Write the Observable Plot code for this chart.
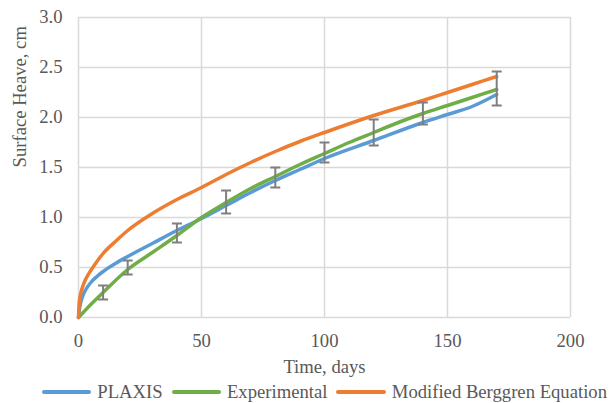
<!DOCTYPE html>
<html><head><meta charset="utf-8">
<script src="https://cdn.jsdelivr.net/npm/d3@7"></script>
<script src="https://cdn.jsdelivr.net/npm/@observablehq/plot@0.6"></script>
<style>
body{margin:0;background:#fff;font-family:"Liberation Serif","Times New Roman",serif;color:#595959;}
#legend{display:flex;align-items:center;height:24px;padding-left:42px;font-size:18.67px;line-height:22px;white-space:nowrap;}
#legend .sw{height:4px;border-radius:2px;margin-right:6px;}
#legend .lb{margin-right:9px;}
</style></head><body>
<div id="chart"></div>
<div id="legend"></div>
<script>
// ---- data ----
const seriesNames = ["PLAXIS", "Experimental", "Modified Berggren Equation"];
const seriesColors = ["#5B9BD5", "#70AD47", "#ED7D31"];

const plaxisT = [0, 0.5, 1.5, 3, 5, 7.5, 10, 15, 20, 30, 40, 50, 60, 70, 80, 90, 100, 120, 140, 150, 160, 170];
const plaxisV = [0, 0.10, 0.20, 0.28, 0.35, 0.41, 0.46, 0.54, 0.61, 0.74, 0.87, 0.99, 1.12, 1.25, 1.37, 1.48, 1.59, 1.77, 1.95, 2.03, 2.11, 2.23];

const expT = [0, 5, 10, 20, 30, 40, 50, 60, 70, 80, 90, 100, 110, 120, 130, 140, 150, 160, 170];
const expV = [0, 0.13, 0.25, 0.48, 0.65, 0.82, 1.00, 1.15, 1.29, 1.41, 1.53, 1.64, 1.75, 1.85, 1.95, 2.04, 2.12, 2.20, 2.28];

const bergT = [0, 0.3, 1, 2, 3.5, 5, 7.5, 10, 15, 20, 30, 40, 50, 60, 70, 80, 90, 100, 120, 140, 150, 160, 170];
const bergV = [0, 0.15, 0.25, 0.33, 0.41, 0.47, 0.56, 0.64, 0.76, 0.87, 1.04, 1.18, 1.30, 1.43, 1.55, 1.66, 1.76, 1.85, 2.02, 2.17, 2.25, 2.33, 2.41];

const errT  = [10, 20, 40, 60, 80, 100, 120, 140, 170];
const errLo = [0.18, 0.43, 0.75, 1.04, 1.30, 1.55, 1.72, 1.93, 2.12];
const errHi = [0.32, 0.57, 0.94, 1.27, 1.50, 1.75, 1.98, 2.15, 2.46];

const xTicks = [0, 50, 100, 150, 200];
const yTicks = [0, 0.5, 1.0, 1.5, 2.0, 2.5, 3.0];
const xLabel = "Time, days";
const yLabel = "Surface Heave, cm";

// ---- build tables ----
const toRows = (T, V, s) => T.map((t, i) => ({t, v: V[i], s}));
const plaxis = toRows(plaxisT, plaxisV, seriesNames[0]);
const exper = toRows(expT, expV, seriesNames[1]);
const berg = toRows(bergT, bergV, seriesNames[2]);
const errs = errT.map((t, i) => ({t, lo: errLo[i], hi: errHi[i]}));
const caps = errs.flatMap(d => [{t: d.t, v: d.lo}, {t: d.t, v: d.hi}]);

const capSymbol = {draw(ctx, size) { const r = Math.sqrt(size / Math.PI); ctx.moveTo(-r, 0); ctx.lineTo(r, 0); }};

const FF = "'Liberation Serif','Times New Roman',serif";
const FS = 18.67;
const grid = "#d9d9d9";
const chart = Plot.plot({
  width: 616, height: 380,
  marginLeft: 78, marginRight: 46, marginTop: 17, marginBottom: 63,
  style: {fontFamily: FF, fontSize: FS + "px", color: "#595959", background: "#fff"},
  x: {domain: [0, 200], ticks: xTicks, label: null},
  y: {domain: [0, 3], ticks: yTicks, label: null, tickFormat: d3.format(".1f")},
  marks: [
    Plot.ruleX(xTicks, {stroke: grid, strokeWidth: 1.5}),
    Plot.ruleY(yTicks, {stroke: grid, strokeWidth: 1.5}),
    Plot.axisX({ticks: xTicks, tickSize: 0, tickPadding: 16, label: null, fontFamily: FF, fontSize: FS, fill: "#595959"}),
    Plot.axisY({ticks: yTicks, tickSize: 0, tickPadding: 16, label: null, tickFormat: d3.format(".1f"), fontFamily: FF, fontSize: FS, fill: "#595959"}),
    Plot.line(plaxis, {x: "t", y: "v", stroke: seriesColors[0], strokeWidth: 3.5, curve: "monotone-x", strokeLinecap: "round"}),
    Plot.line(exper, {x: "t", y: "v", stroke: seriesColors[1], strokeWidth: 3.5, curve: "monotone-x", strokeLinecap: "round"}),
    Plot.line(berg, {x: "t", y: "v", stroke: seriesColors[2], strokeWidth: 3.5, curve: "monotone-x", strokeLinecap: "round"}),
    Plot.ruleX(errs, {x: "t", y1: "lo", y2: "hi", stroke: "#7f7f7f", strokeWidth: 2}),
    Plot.dot(caps, {x: "t", y: "v", symbol: capSymbol, r: 5, stroke: "#7f7f7f", fill: "none", strokeWidth: 2}),
    Plot.text([xLabel], {frameAnchor: "bottom", dy: 50, lineAnchor: "middle", text: d => d, fill: "#595959", fontFamily: FF, fontSize: FS}),
    Plot.text([yLabel], {frameAnchor: "left", dx: -58, rotate: -90, lineAnchor: "middle", text: d => d, fill: "#595959", fontFamily: FF, fontSize: FS})
  ]
});
document.getElementById("chart").appendChild(chart);

const legend = document.getElementById("legend");
const swW = [52, 52, 52];
seriesNames.forEach((name, i) => {
  const sw = document.createElement("span");
  sw.className = "sw"; sw.style.width = swW[i] + "px"; sw.style.background = seriesColors[i];
  const lb = document.createElement("span");
  lb.className = "lb"; lb.textContent = name;
  legend.appendChild(sw); legend.appendChild(lb);
});
</script>
</body></html>
